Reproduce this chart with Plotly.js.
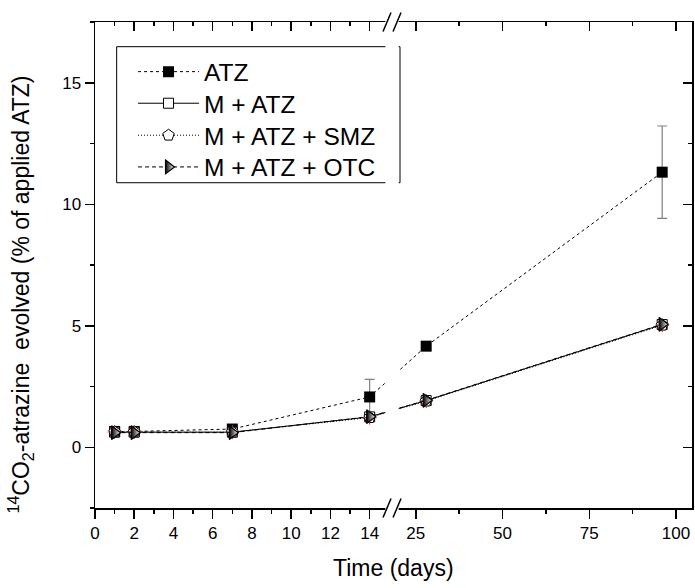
<!DOCTYPE html>
<html>
<head>
<meta charset="utf-8">
<script src="https://cdn.plot.ly/plotly-3.0.1.min.js"></script>
<style>html,body{margin:0;padding:0;background:#fff}#chart{width:695px;height:588px}</style>
</head>
<body>
<div id="chart"></div>
<script>
// ---- data ----
const days = [1, 2, 7, 14, 28, 96];
const atz = [0.65, 0.65, 0.75, 2.07, 4.16, 11.32];
const atzErr = [0.05, 0.05, 0.05, 0.72, 0.1, 1.9];
const mAtz = [0.62, 0.62, 0.62, 1.25, 1.92, 5.05];
const mAtzSmz = [0.63, 0.63, 0.62, 1.22, 1.9, 5.02];
const mAtzOtc = [0.6, 0.6, 0.6, 1.26, 1.93, 5.06];
const xTickDays = [0, 2, 4, 6, 8, 10, 12, 14, 25, 50, 75, 100];
const xTickText = ['0', '2', '4', '6', '8', '10', '12', '14', '25', '50', '75', '100'];
const xMinorDays = [1, 3, 5, 7, 9, 11, 13, 37.5, 62.5, 87.5];
const yTickVals = [0, 5, 10, 15];
const names = ['ATZ', 'M + ATZ', 'M + ATZ + SMZ', 'M + ATZ + OTC'];

// ---- broken axis mapping (left segment 0..~15 days, right segment compressed) ----
const BREAK_U = 15.14;
const U25 = 16.35;
const RATIO = 0.1769;
function brk(d) { return d <= BREAK_U ? d : U25 + (d - 25) * RATIO; }
const X_MAX = 30.43;

const xs = days.map(brk);
const FONT = 'Liberation Sans, Arial, sans-serif';

const traces = [
  {x: xs, y: atz, name: names[0], mode: 'lines+markers', legend: 'legend',
   line: {color: '#000', width: 1, dash: '3px,3px'},
   marker: {symbol: 'square', size: 11, color: '#000'},
   error_y: {type: 'data', array: atzErr, visible: true, color: '#808080', thickness: 1.2, width: 5}},
  {x: xs, y: mAtz, name: names[1], mode: 'lines+markers', legend: 'legend2',
   line: {color: '#000', width: 1},
   marker: {symbol: 'square', size: 10, color: '#fff', line: {color: '#000', width: 1}}},
  {x: xs, y: mAtzSmz, name: names[2], mode: 'lines+markers', legend: 'legend3',
   line: {color: '#000', width: 1, dash: '1px,2px'},
   marker: {symbol: 'pentagon', size: 12, color: '#fff', line: {color: '#000', width: 1}}},
  {x: xs, y: mAtzSmz, name: names[2], mode: 'markers', showlegend: false,
   marker: {symbol: 'cross-thin-open', size: 10, line: {color: '#000', width: 1}}},
  {x: xs, y: mAtzOtc, name: names[3], mode: 'lines+markers', legend: 'legend4',
   line: {color: '#000', width: 1, dash: '4px,3px'},
   marker: {symbol: 'triangle-right', size: 12, color: '#000', gradient: {type: 'horizontal', color: '#fff'},
            line: {color: '#000', width: 1.2}}},
  {x: [0], y: [0], xaxis: 'x2', yaxis: 'y2', showlegend: false, hoverinfo: 'skip',
   mode: 'markers', marker: {opacity: 0}}
];

const axFont = {family: FONT, size: 17, color: '#000'};
const xTickVals = xTickDays.map(brk);
const xMinorVals = xMinorDays.map(brk);

function lineAxis(extra) {
  return Object.assign({showline: true, linecolor: '#000', linewidth: 1.5, showgrid: false, zeroline: false,
    ticklen: 9, tickwidth: 1.5, tickcolor: '#000'}, extra);
}
// one single-row legend per series so the row spacing can follow the original
function legendRow(rowPx) {
  return {x: 0.0637, y: (508 - rowPx) / 486, xanchor: 'left', yanchor: 'middle',
    borderwidth: 0, bgcolor: 'rgba(0,0,0,0)',
    font: {family: FONT, size: 24.5, color: '#000'}, itemwidth: 61};
}

const layout = {
  width: 695, height: 588,
  margin: {l: 95, r: 3, t: 22, b: 80},
  paper_bgcolor: '#fff', plot_bgcolor: '#fff',
  font: axFont,
  showlegend: true,
  legend: legendRow(71.7),
  legend2: legendRow(103.3),
  legend3: legendRow(135.3),
  legend4: legendRow(167),
  xaxis: lineAxis({range: [0, X_MAX], tickmode: 'array', tickvals: xTickVals, ticktext: xTickText,
    ticks: 'outside', tickfont: axFont,
    minor: {tickmode: 'array', tickvals: xMinorVals, ticks: 'outside', ticklen: 4, tickwidth: 1.5, tickcolor: '#000', showgrid: false}}),
  xaxis2: lineAxis({range: [0, X_MAX], overlaying: 'x', side: 'top', anchor: 'y', tickmode: 'array', tickvals: xTickVals,
    showticklabels: false, ticks: 'inside',
    minor: {tickmode: 'array', tickvals: xMinorVals, ticks: 'inside', ticklen: 4, tickwidth: 1.5, tickcolor: '#000', showgrid: false}}),
  yaxis: lineAxis({range: [-2.5, 17.5], tickmode: 'array', tickvals: yTickVals,
    ticks: 'outside', tickfont: axFont,
    minor: {dtick: 2.5, tick0: 0, ticks: 'outside', ticklen: 4, tickwidth: 1.5, tickcolor: '#000', showgrid: false}}),
  yaxis2: lineAxis({range: [-2.5, 17.5], overlaying: 'y', side: 'right', anchor: 'x', tickmode: 'array', tickvals: yTickVals,
    showticklabels: false, ticks: 'inside',
    minor: {dtick: 2.5, tick0: 0, ticks: 'inside', ticklen: 4, tickwidth: 1.5, tickcolor: '#000', showgrid: false}}),
  shapes: [
    // legend frame
    {type: 'rect', xref: 'paper', yref: 'paper', x0: 0.0363, x1: 0.5109, y0: 0.6693, y1: 0.9492,
     fillcolor: '#fff', line: {color: '#000', width: 1}, layer: 'above'},
    // axis break gap
    {type: 'rect', xref: 'x', yref: 'paper', x0: 14.8, x1: 15.48, y0: -0.03, y1: 1.03,
     fillcolor: '#fff', line: {width: 0}, layer: 'above'},
    {type: 'line', xref: 'x', yref: 'paper', xsizemode: 'pixel', xanchor: BREAK_U, ysizemode: 'pixel', yanchor: 1,
     x0: -9, x1: -1, y0: -9.5, y1: 9.5, line: {color: '#000', width: 1.5}, layer: 'above'},
    {type: 'line', xref: 'x', yref: 'paper', xsizemode: 'pixel', xanchor: BREAK_U, ysizemode: 'pixel', yanchor: 1,
     x0: 1, x1: 9, y0: -9.5, y1: 9.5, line: {color: '#000', width: 1.5}, layer: 'above'},
    {type: 'line', xref: 'x', yref: 'paper', xsizemode: 'pixel', xanchor: BREAK_U, ysizemode: 'pixel', yanchor: 0,
     x0: -9, x1: -1, y0: -9.5, y1: 9.5, line: {color: '#000', width: 1.5}, layer: 'above'},
    {type: 'line', xref: 'x', yref: 'paper', xsizemode: 'pixel', xanchor: BREAK_U, ysizemode: 'pixel', yanchor: 0,
     x0: 1, x1: 9, y0: -9.5, y1: 9.5, line: {color: '#000', width: 1.5}, layer: 'above'}
  ],
  annotations: [
    {text: 'Time (days)', xref: 'paper', yref: 'paper', x: 0.5, y: -0.124, xanchor: 'center', yanchor: 'middle',
     showarrow: false, font: {family: FONT, size: 23, color: '#000'}},
    {text: '<sup>14</sup>CO<sub>2</sub>-atrazine  evolved (% of applied ATZ)', xref: 'paper', yref: 'paper',
     x: -0.125, y: 0.44, xanchor: 'center', yanchor: 'middle', textangle: -90,
     showarrow: false, font: {family: FONT, size: 23, color: '#000'}}
  ]
};

Plotly.newPlot('chart', traces, layout, {displayModeBar: false, staticPlot: true});
</script>
</body>
</html>
